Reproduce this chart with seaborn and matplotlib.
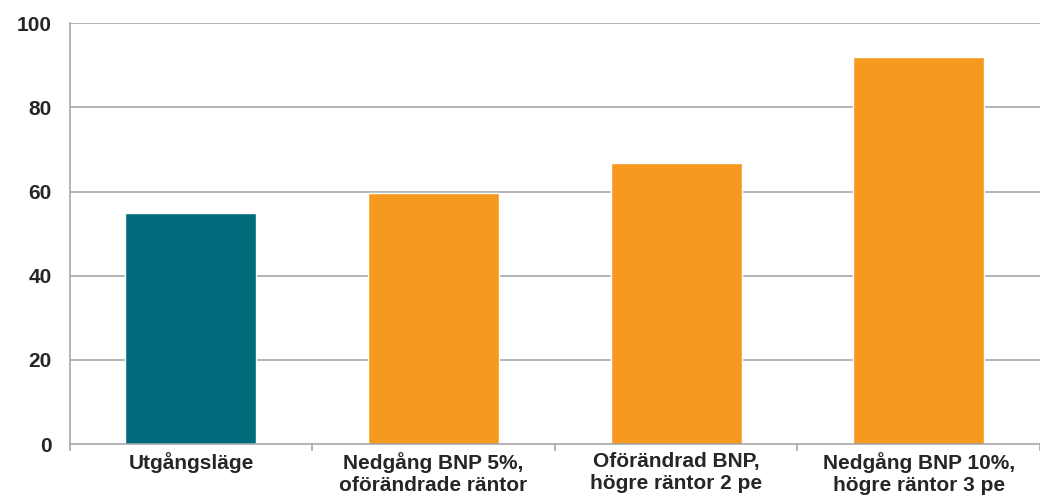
import matplotlib
matplotlib.use("Agg")
import matplotlib.pyplot as plt
import seaborn as sns
import pandas as pd
from matplotlib.ticker import FixedLocator

categories = ["Utgångsläge", "Nedgång BNP 5%,\noförändrade räntor",
              "Oförändrad BNP,\nhögre räntor 2 pe", "Nedgång BNP 10%,\nhögre räntor 3 pe"]
values = [55.0, 59.7, 66.8, 92.0]
colors = ["#006B7A", "#F7981F", "#F7981F", "#F7981F"]
yticks = [0, 20, 40, 60, 80, 100]

sns.set_style("white")
plt.rcParams["font.family"] = ["Liberation Sans", "DejaVu Sans"]

df = pd.DataFrame({"cat": categories, "val": values})
fig = plt.figure(figsize=(10.4, 5.03), dpi=100)
ax = fig.add_axes([0.067, 0.117, 0.933, 0.837])
ax.set_axisbelow(True)
for y in yticks[1:]:
    ax.axhline(y, color="#A0A0A0", lw=1.1, zorder=0)
sns.barplot(data=df, x="cat", y="val", hue="cat", palette=dict(zip(categories, colors)),
            order=categories, width=0.54, legend=False, ax=ax, saturation=1, zorder=2)
ax.set_xlim(-0.5, 3.5)
ax.set_ylim(0, 100)
ax.set_yticks(yticks)
ax.set_xlabel("")
ax.set_ylabel("")
for s in ["top", "right"]:
    ax.spines[s].set_visible(False)
for s in ["left", "bottom"]:
    ax.spines[s].set_color("#A0A0A0")
    ax.spines[s].set_linewidth(1.1)
ax.tick_params(axis="y", length=0, pad=13, labelsize=15)
ax.tick_params(axis="x", which="major", length=0, pad=6, labelsize=15)
ax.xaxis.set_minor_locator(FixedLocator([-0.5, 0.5, 1.5, 2.5, 3.5]))
ax.tick_params(axis="x", which="minor", length=5, width=1.1, color="#A0A0A0", bottom=True)
for lab in ax.get_xticklabels() + ax.get_yticklabels():
    lab.set_fontweight("bold")
for lab in ax.get_xticklabels():
    lab.set_linespacing(1.15)
fig.savefig("out.png", dpi=100)
